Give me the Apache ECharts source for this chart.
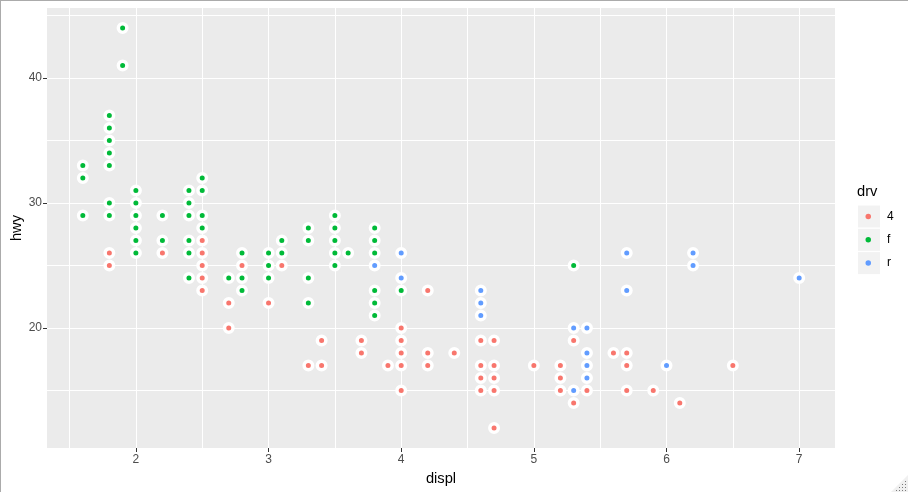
<!DOCTYPE html>
<html><head><meta charset="utf-8">
<script src="https://cdn.jsdelivr.net/npm/echarts@6/dist/echarts.min.js"></script>
<style>html,body{margin:0;padding:0;background:#fff}#c{width:908px;height:492px}</style>
</head><body><div id="c"></div>
<script>
// ---- data ----
const drvLevels = ['4', 'f', 'r'];
const drvColors = ['#F8766D', '#00BA38', '#619CFF'];

const displ4 = [1.8,1.8,2.2,2.5,2.5,2.5,2.5,2.5,2.7,2.7,2.8,3.0,3.1,3.3,3.4,3.4,3.7,3.7,3.9,4.0,4.0,4.0,4.0,4.0,4.2,4.2,4.2,4.4,4.6,4.6,4.6,4.6,4.7,4.7,4.7,4.7,4.7,5.0,5.2,5.2,5.2,5.3,5.3,5.4,5.6,5.7,5.7,5.7,5.9,6.1,6.5];
const hwy4   = [26,25,26,27,26,25,24,23,22,20,25,22,25,17,19,17,19,18,17,20,19,18,17,15,23,18,17,18,19,17,16,15,19,17,16,15,12,17,17,16,15,19,14,15,18,18,17,15,15,14,17];

const displF = [1.6,1.6,1.6,1.8,1.8,1.8,1.8,1.8,1.8,1.8,1.9,1.9,2.0,2.0,2.0,2.0,2.0,2.0,2.2,2.2,2.4,2.4,2.4,2.4,2.4,2.4,2.5,2.5,2.5,2.5,2.7,2.8,2.8,2.8,3.0,3.0,3.0,3.1,3.1,3.3,3.3,3.3,3.3,3.5,3.5,3.5,3.5,3.5,3.6,3.8,3.8,3.8,3.8,3.8,3.8,4.0,5.3];
const hwyF   = [33,32,29,37,36,35,34,33,30,29,44,41,31,30,29,28,27,26,29,27,31,30,29,27,26,24,32,31,29,28,24,26,24,23,26,25,24,27,26,28,27,24,22,29,28,27,26,25,26,28,27,26,23,22,21,23,25];

const displR = [3.8,4.0,4.0,4.6,4.6,4.6,5.3,5.3,5.4,5.4,5.4,5.4,5.7,5.7,6.0,6.2,6.2,7.0];
const hwyR   = [25,26,24,23,22,21,20,15,20,18,17,16,26,23,17,26,25,24];

const xTicks = [2, 3, 4, 5, 6, 7];
const yTicks = [20, 30, 40];
const xMinor = [1.5, 2.5, 3.5, 4.5, 5.5, 6.5];
const yMinor = [15, 25, 35, 45];

// ---- chart ----
const FONT = '"Liberation Sans", Arial, sans-serif';
const groups = [[displ4, hwy4], [displF, hwyF], [displR, hwyR]];

const scatterSeries = groups.map((g, i) => ({
  name: drvLevels[i],
  type: 'scatter',
  z: 3,
  data: g[0].map((d, k) => [d, g[1][k]]),
  symbol: 'circle',
  symbolSize: 8.5,
  itemStyle: { color: drvColors[i], borderColor: '#ffffff', borderWidth: 3.5, opacity: 1 },
  emphasis: { disabled: true },
  silent: true
}));

const minorSeries = {
  name: 'minor-grid',
  type: 'scatter',
  data: [],
  silent: true,
  z: 1,
  markLine: {
    silent: true,
    z: 1,
    symbol: ['none', 'none'],
    label: { show: false },
    emphasis: { disabled: true },
    animation: false,
    lineStyle: { color: '#ffffff', width: 1, type: 'solid' },
    data: xMinor.map(v => ({ xAxis: v })).concat(yMinor.map(v => ({ yAxis: v })))
  }
};

const keyTop = 205.5, keyStep = 23.3;
const graphics = [
  { type: 'line', shape: { x1: 0, y1: 0.5, x2: 908, y2: 0.5 }, style: { stroke: '#ABABAB', lineWidth: 1 }, silent: true },
  { type: 'line', shape: { x1: 0.5, y1: 0, x2: 0.5, y2: 492 }, style: { stroke: '#ABABAB', lineWidth: 1 }, silent: true },
  { type: 'text', left: 857, top: 184, style: { text: 'drv', font: '14.7px ' + FONT, fill: '#000000' }, silent: true }
];
drvLevels.forEach((lv, i) => {
  graphics.push({ type: 'rect', shape: { x: 858, y: keyTop + i * keyStep, width: 22, height: 22 }, style: { fill: '#F2F2F2' }, z: 0, silent: true });
});
// resize grip (bottom-right corner)
graphics.push({ type: 'polygon', shape: { points: [[908, 475], [908, 492], [891, 492]] }, style: { fill: '#F0F0F0' }, silent: true });
for (let r = 0; r < 4; r++) {
  for (let c = 0; c <= r; c++) {
    graphics.push({ type: 'rect', shape: { x: 905 - 3 * c, y: 481 + 3 * r, width: 1, height: 1 }, style: { fill: '#7A7A7A' }, silent: true });
  }
}

const chart = echarts.init(document.getElementById('c'), null, { renderer: 'canvas' });
chart.setOption({
  animation: false,
  backgroundColor: '#ffffff',
  textStyle: { fontFamily: FONT },
  grid: { left: 47, top: 8, width: 788, height: 440, show: true, backgroundColor: '#EBEBEB', borderWidth: 0,
          containLabel: false, outerBoundsMode: 'none' },
  xAxis: {
    type: 'value', min: 1.33, max: 7.27, minInterval: 1, maxInterval: 1,
    axisLine: { show: false },
    axisTick: { show: true, length: 4, customValues: xTicks, lineStyle: { color: '#333333', width: 1 } },
    axisLabel: { customValues: xTicks, color: '#4D4D4D', fontSize: 12, margin: 6, fontFamily: FONT },
    splitLine: { show: true, lineStyle: { color: '#ffffff', width: 1 } },
    name: 'displ', nameLocation: 'middle', nameGap: 23,
    nameTextStyle: { fontSize: 14.7, color: '#000000', fontFamily: FONT }
  },
  yAxis: {
    type: 'value', min: 10.4, max: 45.6, minInterval: 10, maxInterval: 10,
    axisLine: { show: false },
    axisTick: { show: true, length: 4, customValues: yTicks, lineStyle: { color: '#333333', width: 1 } },
    axisLabel: { customValues: yTicks, color: '#4D4D4D', fontSize: 12, margin: 5, fontFamily: FONT },
    splitLine: { show: true, lineStyle: { color: '#ffffff', width: 1 } },
    name: 'hwy', nameLocation: 'middle', nameGap: 23, nameMoveOverlap: false,
    nameTextStyle: { fontSize: 14.7, color: '#000000', fontFamily: FONT }
  },
  legend: {
    data: drvLevels,
    orient: 'vertical',
    left: 865.5, top: keyTop,
    padding: 0,
    itemGap: keyStep - 22,
    itemWidth: 5.5, itemHeight: 5.5,
    icon: 'circle',
    selectedMode: false,
    itemStyle: { borderWidth: 0 },
    textStyle: { fontSize: 12, color: '#000000', fontFamily: FONT, lineHeight: 22, padding: [0, 0, 0, 11] }
  },
  graphic: graphics,
  series: [minorSeries].concat(scatterSeries)
});
</script></body></html>
